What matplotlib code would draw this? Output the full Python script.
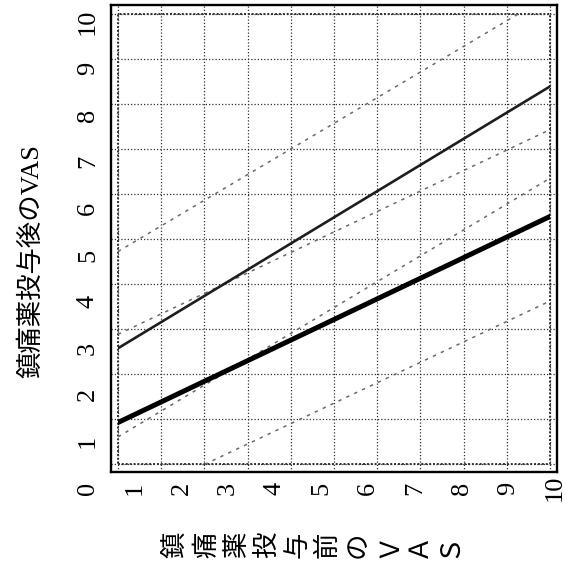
import matplotlib
matplotlib.use("Agg")
import matplotlib.pyplot as plt
from matplotlib.patches import Rectangle

# ---- data ----
x_ends = [0, 10]
mean_a = [0.92, 5.50]        # thick solid regression line
mean_b = [2.57, 8.39]        # thin solid regression line
band_a_low = [-0.92, 3.62]   # dotted band around thick line
band_a_high = [2.88, 7.43]
band_b_low = [0.60, 6.35]    # dotted band around thin line
band_b_high = [4.72, 10.42]
tick_vals = list(range(11))
x_tick_labels = [str(v) for v in tick_vals]
y_tick_labels = [""] + [str(v) for v in tick_vals[1:]]
xlabel = "鎮痛薬投与前のＶＡＳ"
ylabel = "鎮痛薬投与後のVAS"

W, H = 565, 569
fig = plt.figure(figsize=(W / 100, H / 100), dpi=100)
fig.patch.set_facecolor("white")


def px(l, t, r, b):
    return [l / W, 1 - b / H, (r - l) / W, (b - t) / H]


serif = ["Liberation Serif", "Noto Sans CJK JP"]
cjk = ["Noto Sans CJK JP", "DejaVu Sans"]

# main plotting axes (outer solid frame)
ax = fig.add_axes(px(111, 5, 557, 472))
ax.set_xlim(-0.162, 10.162)
ax.set_ylim(-0.18, 10.2)
ax.set_xticks(tick_vals)
ax.set_yticks(tick_vals)
ax.tick_params(length=0, labelbottom=False, labelleft=False)
ax.grid(True, linestyle=(0, (1, 1.6)), color="#333333", linewidth=0.9)
ax.set_axisbelow(True)
for s in ax.spines.values():
    s.set_linewidth(1.7)
    s.set_color("black")

# inner dotted border
ax.add_patch(Rectangle((0, 0), 10, 10, fill=False, linestyle=(0, (1, 1)),
                       linewidth=1.4, edgecolor="#333333", zorder=1.5))

clip = Rectangle((0, 0), 10, 10, transform=ax.transData)

band_style = dict(color="#6a6a6a", linewidth=1.1, linestyle=(0, (2.2, 3.5)), zorder=2)
for series in (band_a_low, band_a_high, band_b_low, band_b_high):
    ln, = ax.plot(x_ends, series, **band_style)
    ln.set_clip_path(clip)

ln, = ax.plot(x_ends, mean_b, color="#1e1e1e", linewidth=1.9, zorder=3)
ln.set_clip_path(clip)
ln, = ax.plot(x_ends, mean_a, color="black", linewidth=3.6, zorder=3)
ln.set_clip_path(clip)

# tick-label axes (labels in the reference sit on a slightly larger grid)
lab = fig.add_axes(px(88, 22, 555, 488))
lab.set_xlim(0, 10)
lab.set_ylim(0, 10)
lab.set_frame_on(False)
lab.set_xticks(tick_vals, x_tick_labels)
lab.set_yticks(tick_vals, y_tick_labels)
lab.tick_params(length=0, pad=0, labelsize=19, labelrotation=90)
for t in lab.get_xticklabels():
    t.set_verticalalignment("center")
    t.set_horizontalalignment("center")
    t.set_fontfamily(serif)
for t in lab.get_yticklabels():
    t.set_horizontalalignment("center")
    t.set_verticalalignment("center")
    t.set_fontfamily(serif)

# axis titles
fig.text(31 / W, 1 - 261 / H, ylabel, rotation=90, ha="center", va="center",
         fontsize=19, family=serif)
fig.text(312 / W, 1 - 545 / H, "\n".join(xlabel), rotation=90, ha="center",
         va="center", fontsize=19, linespacing=1.15, family=cjk)

fig.savefig("out.png", dpi=100, facecolor="white")
